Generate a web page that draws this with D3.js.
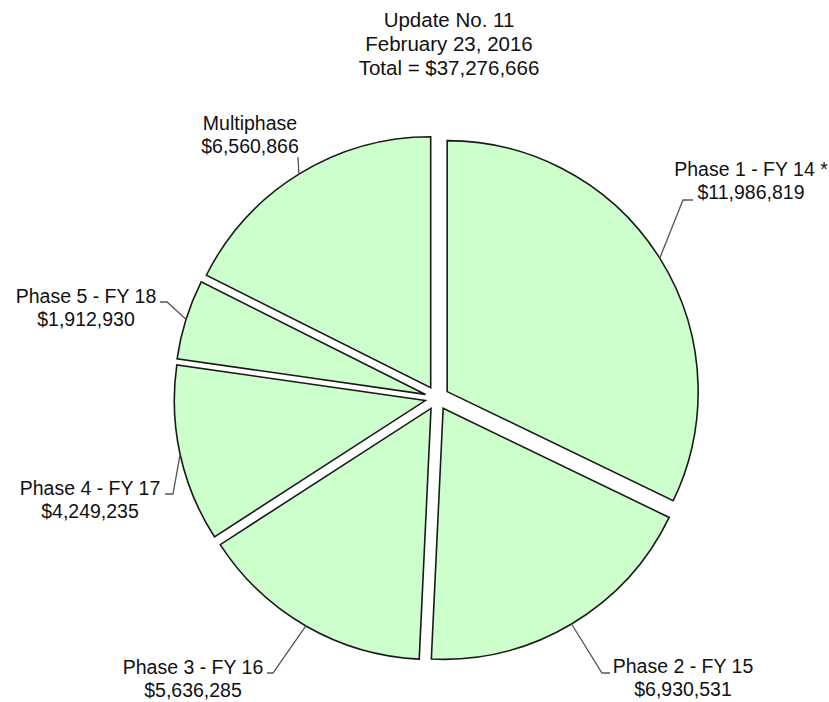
<!DOCTYPE html>
<html>
<head>
<meta charset="utf-8">
<script src="https://cdn.jsdelivr.net/npm/d3@7"></script>
<style>
  body { margin: 0; background: #fff; }
  svg { display: block; }
  .slice { fill: #ccffcc; stroke: #1a1a1a; stroke-width: 1.6px; }
  .leader { fill: none; stroke: #555; stroke-width: 1.3px; }
  text { font-family: "Liberation Sans", Arial, sans-serif; fill: #111; }
</style>
</head>
<body>
<svg width="829" height="702"></svg>
<script>
/*
Chart data: phase names, amounts, title lines
*/
var phases = ["Phase 1 - FY 14 *", "Phase 2 - FY 15", "Phase 3 - FY 16",
              "Phase 4 - FY 17", "Phase 5 - FY 18", "Multiphase"];
var amounts = [11986819, 6930531, 5636285, 4249235, 1912930, 6560866];
var titleLines = ["Update No. 11", "February 23, 2016", "Total = $37,276,666"];

/*
Layout: pie centre, radius, explode distance
label placement relative to the pie centre (elbow of the leader, stub end, text centre)
*/
var svg = d3.select("svg"),
    cx = 437, cy = 398,
    radius = 251,
    explode = 12,
    lineH = 23;

var labelLayout = [
  {ex: 246, ey: -198, sx: 256, tx: 314, ty: -222},
  {ex: 165, ey: 275, sx: 173, tx: 246, ty: 275},
  {ex: -164, ey: 275, sx: -170, tx: -244, ty: 276},
  {ex: -264, ey: 96, sx: -272, tx: -347, ty: 97},
  {ex: -270, ey: -96, sx: -277, tx: -351, ty: -95},
  {ex: -139, ey: -241, sx: -139, tx: -187, ty: -268}
];

var fmt = d3.format("$,");

/*
Title
*/
svg.append("g")
    .selectAll("text")
    .data(titleLines)
    .enter().append("text")
    .attr("x", 449)
    .attr("y", function(d, i) { return 27 + i * 24; })
    .attr("text-anchor", "middle")
    .style("font-size", "20.5px")
    .text(function(d) { return d; });

/*
Pie, clockwise from 12 o'clock, data order kept
*/
var pie = d3.pie().sort(null).value(function(d) { return d; });
var arcs = pie(amounts);

var arc = d3.arc().innerRadius(0).outerRadius(radius);
var edge = d3.arc().innerRadius(radius).outerRadius(radius);

function shift(d) {
  var a = (d.startAngle + d.endAngle) / 2;
  return [explode * Math.sin(a), -explode * Math.cos(a)];
}

var g = svg.append("g").attr("transform", "translate(" + cx + "," + cy + ")");

var slice = g.selectAll(".sliceG")
    .data(arcs)
    .enter().append("g")
    .attr("class", "sliceG");

slice.append("path")
    .attr("class", "slice")
    .attr("transform", function(d) { return "translate(" + shift(d) + ")"; })
    .attr("d", arc);

/*
Leader lines: arc mid point -> elbow -> stub
*/
slice.append("path")
    .attr("class", "leader")
    .attr("d", function(d, i) {
      var s = shift(d), p = edge.centroid(d), L = labelLayout[i];
      return "M" + (p[0] + s[0]) + "," + (p[1] + s[1]) +
             "L" + L.ex + "," + L.ey + "L" + L.sx + "," + L.ey;
    });

var label = slice.append("text")
    .attr("text-anchor", "middle")
    .style("font-size", "19.5px");

label.append("tspan")
    .attr("x", function(d, i) { return labelLayout[i].tx; })
    .attr("y", function(d, i) { return labelLayout[i].ty; })
    .text(function(d, i) { return phases[i]; });

label.append("tspan")
    .attr("x", function(d, i) { return labelLayout[i].tx; })
    .attr("y", function(d, i) { return labelLayout[i].ty + lineH; })
    .text(function(d) { return fmt(d.data); });
</script>
</body>
</html>
